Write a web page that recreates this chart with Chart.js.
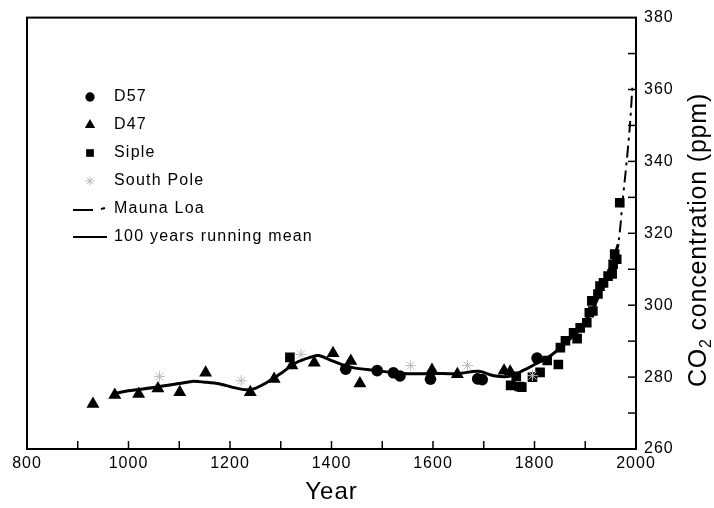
<!DOCTYPE html>
<html><head><meta charset="utf-8">
<script src="https://cdn.jsdelivr.net/npm/chart.js@4/dist/chart.umd.min.js"></script>
<style>html,body{margin:0;padding:0;background:#fff}</style>
</head><body>
<canvas id="c" width="714" height="508"></canvas>
<script>
// ---- data ----
const seriesNames = ['D57', 'D47', 'Siple', 'South Pole', 'Mauna Loa', '100 years running mean'];

const d57Years = [1428, 1490, 1522, 1535, 1595, 1688, 1697, 1805];
const d57Co2   = [282.2, 281.8, 281.2, 280.3, 279.4, 279.5, 279.3, 285.3];

const d47Years = [930, 973, 1020, 1058, 1101, 1152, 1240, 1287, 1322, 1366, 1403, 1438, 1456, 1598, 1648, 1740, 1752];
const d47Co2   = [272.5, 275.0, 275.3, 276.8, 275.8, 281.2, 275.8, 279.5, 283.2, 284.0, 286.6, 284.5, 278.2, 282.0, 280.8, 281.8, 281.5];

const sipleYears = [1318, 1753, 1764, 1770, 1775, 1796, 1811, 1825, 1847, 1851, 1861, 1877, 1884, 1890, 1903, 1908, 1913, 1915, 1925, 1929, 1936, 1945, 1953, 1955, 1958, 1962, 1968];
const sipleCo2   = [285.5, 277.7, 280.2, 277.4, 277.2, 280.0, 281.3, 284.6, 283.5, 288.2, 290.1, 292.3, 290.7, 293.7, 295.1, 297.9, 301.2, 298.4, 303.1, 305.3, 306.2, 308.1, 308.7, 311.4, 314.2, 312.8, 328.5];

const southPoleYears = [1061, 1222, 1340, 1556, 1668, 1796];
const southPoleCo2   = [280.2, 279.0, 286.3, 283.2, 283.2, 280.4];

const maunaLoaYears = [1958, 1966, 1974, 1982, 1988, 1993];
const maunaLoaCo2   = [313.5, 318.0, 329.5, 340.5, 350.0, 361.0];

const meanYears = [970, 1000, 1050, 1100, 1125, 1150, 1180, 1210, 1240, 1270, 1300, 1330, 1360, 1375, 1400, 1440, 1490, 1540, 1600, 1650, 1690, 1720, 1750, 1780, 1800, 1830, 1860, 1890, 1915, 1935, 1955, 1965];
const meanCo2   = [275.3, 276.2, 277.1, 278.2, 278.8, 278.6, 278.1, 277.0, 276.5, 278.3, 281.0, 284.0, 285.6, 286.0, 284.6, 282.7, 281.8, 281.0, 281.0, 281.0, 281.6, 280.4, 280.2, 282.0, 283.5, 285.8, 289.4, 293.4, 299.0, 305.5, 312.5, 317.0];

const xTitle = 'Year';
const yTitleParts = ['CO', '2', ' concentration (ppm)'];

const pts = (xs, ys) => xs.map((v, i) => ({x: v, y: ys[i]}));

const FONT = "'Liberation Sans', Arial, Helvetica, sans-serif";
Chart.defaults.font.family = FONT;
Chart.defaults.color = '#000';

const styles = [
  {pointStyle: 'circle', pointRadius: 5.8, backgroundColor: '#000', borderColor: '#000', borderWidth: 0},
  {pointStyle: 'triangle', pointRadius: 7.5, backgroundColor: '#000', borderColor: '#000', borderWidth: 0},
  {pointStyle: 'rect', pointRadius: 6.8, backgroundColor: '#000', borderColor: '#000', borderWidth: 0},
  {pointStyle: 'star', pointRadius: 5.5, backgroundColor: '#bbb', borderColor: '#bbb', borderWidth: 1}
];

const datasets = [
  {label: seriesNames[5], data: pts(meanYears, meanCo2), showLine: true, pointRadius: 0, borderColor: '#000', borderWidth: 3, tension: 0.35},
  {label: seriesNames[4], data: pts(maunaLoaYears, maunaLoaCo2), showLine: true, pointRadius: 0, borderColor: '#000', borderWidth: 2, borderDash: [12, 5, 3, 5], tension: 0.3},
  Object.assign({label: seriesNames[3], data: pts(southPoleYears, southPoleCo2), showLine: false}, styles[3]),
  Object.assign({label: seriesNames[2], data: pts(sipleYears, sipleCo2), showLine: false}, styles[2]),
  Object.assign({label: seriesNames[1], data: pts(d47Years, d47Co2), showLine: false}, styles[1]),
  Object.assign({label: seriesNames[0], data: pts(d57Years, d57Co2), showLine: false}, styles[0])
];

const spacing = {
  id: 'spacing',
  beforeDraw(chart) { chart.ctx.letterSpacing = '1px'; }
};

const decor = {
  id: 'decor',
  afterDraw(chart) {
    const {ctx, chartArea: a, scales: {x, y}} = chart;
    ctx.save();
    // frame
    ctx.strokeStyle = '#000';
    ctx.lineWidth = 2;
    ctx.strokeRect(a.left, a.top, a.right - a.left, a.bottom - a.top);
    // inward ticks
    ctx.lineWidth = 1.5;
    x.ticks.forEach(t => {
      const px = x.getPixelForValue(t.value);
      if (px <= a.left + 1 || px >= a.right - 1) return;
      ctx.beginPath(); ctx.moveTo(px, a.bottom); ctx.lineTo(px, a.bottom - 8); ctx.stroke();
    });
    y.ticks.forEach(t => {
      const py = y.getPixelForValue(t.value);
      if (py <= a.top + 1 || py >= a.bottom - 1) return;
      ctx.beginPath(); ctx.moveTo(a.right, py); ctx.lineTo(a.right - 8, py); ctx.stroke();
    });
    // legend
    const lx = 90, tx = 114, ly0 = 97, dy = 28;
    ctx.letterSpacing = '1.2px';
    ctx.font = '16px ' + FONT;
    ctx.textBaseline = 'middle';
    ctx.fillStyle = '#000';
    [0, 1, 2, 3, 4, 5].forEach((k, i) => {
      const yy = ly0 + i * dy;
      if (k < 4) {
        const s = styles[k];
        ctx.fillStyle = s.backgroundColor; ctx.strokeStyle = s.borderColor;
        ctx.lineWidth = s.borderWidth;
        Chart.helpers.drawPoint(ctx, {pointStyle: s.pointStyle, radius: s.pointRadius * 0.8, rotation: 0, borderWidth: s.borderWidth}, lx, yy);
      } else if (k === 4) {
        ctx.strokeStyle = '#000'; ctx.lineWidth = 2;
        ctx.beginPath(); ctx.moveTo(73, yy + 1); ctx.lineTo(93, yy + 1); ctx.stroke();
        ctx.beginPath(); ctx.moveTo(101, yy); ctx.lineTo(105, yy - 1); ctx.stroke();
      } else {
        ctx.strokeStyle = '#000'; ctx.lineWidth = 2;
        ctx.beginPath(); ctx.moveTo(73, yy); ctx.lineTo(107, yy); ctx.stroke();
      }
      ctx.fillStyle = '#000';
      ctx.fillText(seriesNames[k], tx, yy);
    });
    // right-hand y title, reading bottom to top
    ctx.letterSpacing = '0.8px';
    ctx.translate(697, 240);
    ctx.rotate(-Math.PI / 2);
    const big = '25px ' + FONT, small = '16px ' + FONT;
    ctx.font = big; const w0 = ctx.measureText(yTitleParts[0]).width;
    ctx.font = small; const w1 = ctx.measureText(yTitleParts[1]).width;
    ctx.font = big; const w2 = ctx.measureText(yTitleParts[2]).width;
    let sx = -(w0 + w1 + w2) / 2;
    ctx.textBaseline = 'alphabetic';
    ctx.font = big; ctx.fillText(yTitleParts[0], sx, 9); sx += w0;
    ctx.font = small; ctx.fillText(yTitleParts[1], sx, 14); sx += w1;
    ctx.font = big; ctx.fillText(yTitleParts[2], sx, 9);
    ctx.restore();
  }
};

new Chart(document.getElementById('c'), {
  type: 'scatter',
  data: {datasets},
  options: {
    responsive: false,
    animation: false,
    devicePixelRatio: 1,
    layout: {padding: {left: 27, top: 15, right: 0, bottom: 0}},
    plugins: {legend: {display: false}, tooltip: {enabled: false}},
    scales: {
      x: {
        type: 'linear', min: 800, max: 2000,
        grid: {display: false, drawTicks: false},
        border: {display: false},
        ticks: {stepSize: 100, autoSkip: false, maxRotation: 0, padding: 5, font: {size: 16},
                callback: v => (v % 200 === 0 ? String(v) : '')},
        title: {display: true, text: xTitle, font: {size: 24}, padding: {top: 2, bottom: 1}},
        afterFit: s => { s.height = 59; }
      },
      y: {
        type: 'linear', position: 'right', min: 260, max: 380,
        grid: {display: false, drawTicks: false},
        border: {display: false},
        ticks: {stepSize: 10, autoSkip: false, padding: 8, font: {size: 16},
                callback: v => (v % 20 === 0 ? String(v) : '')},
        afterFit: s => { s.width = 78; }
      }
    }
  },
  plugins: [spacing, decor]
});
</script>
</body></html>
